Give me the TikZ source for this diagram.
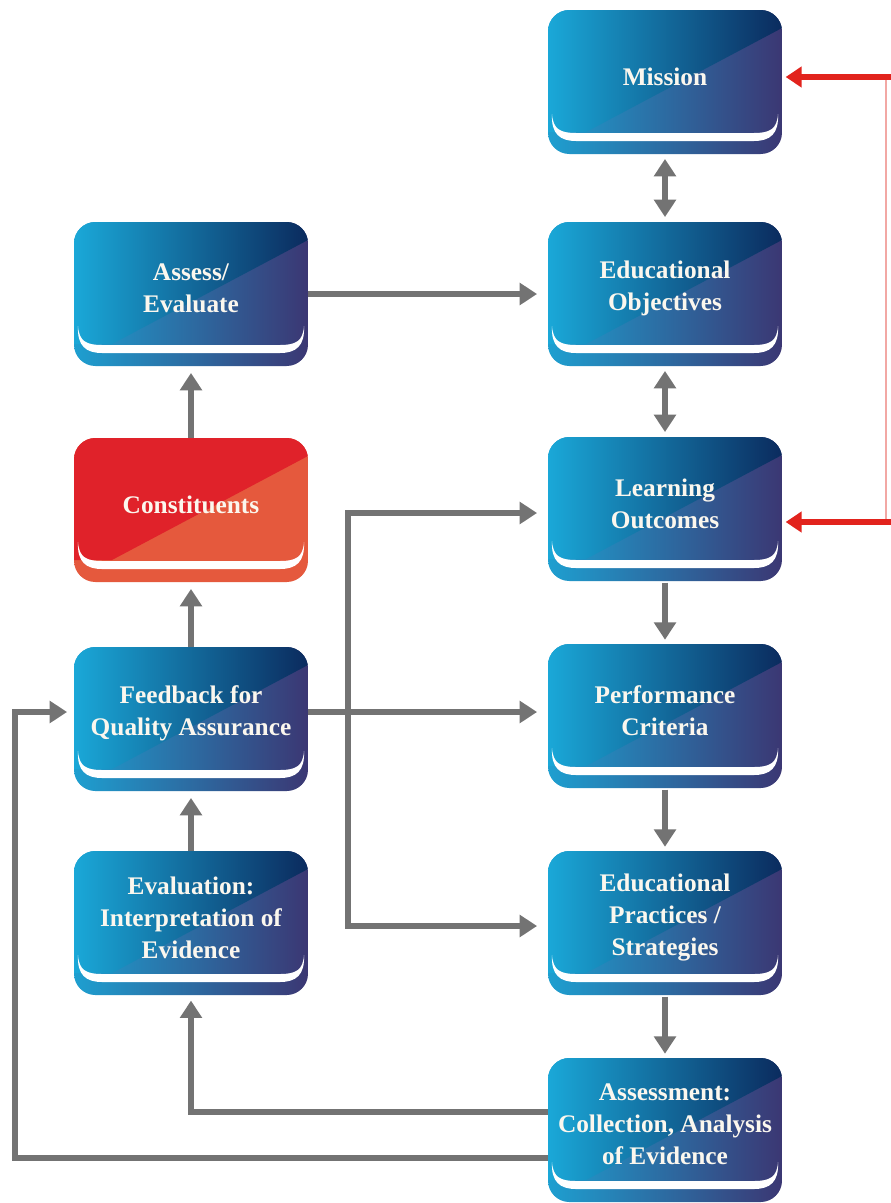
\documentclass[tikz,border=0pt]{standalone}
\usepackage{fontspec}
\newfontfamily\cardface{Liberation Serif}[BoldFont={Liberation Serif Bold}]
\usetikzlibrary{arrows.meta,calc}

\definecolor{blueUL}{HTML}{1AA8D8}
\definecolor{blueUR}{HTML}{0B2B5E}
\definecolor{blueLL}{HTML}{1E9FD0}
\definecolor{blueLR}{HTML}{3B3773}
\definecolor{redU}{HTML}{E0222A}
\definecolor{redL}{HTML}{E5593D}
\definecolor{arrowgray}{HTML}{737373}
\definecolor{linkred}{HTML}{E2231D}
\definecolor{palered}{HTML}{F2A8A4}
\definecolor{cardtext}{HTML}{FBF7EE}

\newcommand\cardfont{\cardface\fontsize{19}{24}\selectfont\bfseries}

% Paints a card: two diagonal halves with horizontal gradients and a white
% crescent near the bottom edge that separates the lower lip.
\newcommand\cardpaint[4]{%
  \begin{scope}[sharp corners]
    \coordinate (cNW) at (path picture bounding box.north west);
    \coordinate (cNE) at (path picture bounding box.north east);
    \coordinate (cSW) at (path picture bounding box.south west);
    \coordinate (cSE) at (path picture bounding box.south east);
    \shade[left color=#3, right color=#4] (cSW) rectangle (cNE);
    \shade[left color=#1, right color=#2]
      (cNW) -- (cNE) -- ($(cNE)+(0,18)$) -- ($(cSW)+(38,-22)$) -- ($(cSW)+(0,-22)$) -- cycle;
    \fill[white]
      ($(cSW)+(4,-40)$) .. controls ($(cSW)+(5,-25)$) and ($(cSW)+(12,-21)$) .. ($(cSW)+(28,-21)$)
      -- ($(cSE)+(-28,-21)$) .. controls ($(cSE)+(-12,-21)$) and ($(cSE)+(-5,-25)$) .. ($(cSE)+(-4,-40)$)
      .. controls ($(cSE)+(-3,-20)$) and ($(cSE)+(-12,-13)$) .. ($(cSE)+(-28,-13)$)
      -- ($(cSW)+(28,-13)$) .. controls ($(cSW)+(12,-13)$) and ($(cSW)+(3,-20)$) .. cycle;
  \end{scope}%
}

\tikzset{
  card/.style={rectangle, rounded corners=16pt, minimum width=175.5pt,
    minimum height=108pt, inner sep=0pt},
  bluecard/.style={card, path picture={\cardpaint{blueUL}{blueUR}{blueLL}{blueLR}}},
  redcard/.style={card, path picture={\cardpaint{redU}{redU}{redL}{redL}}},
  cardlabel/.style={align=center, text=cardtext, font=\cardfont, inner sep=0pt},
  >={Triangle[length=13pt,width=16pt]},
  flow/.style={draw=arrowgray, line width=4.5pt, line join=miter},
  feed/.style={draw=linkred, line width=4pt, -{Triangle[length=12pt,width=15pt]},
    shorten >=2.5pt},
}

\begin{document}
\begin{tikzpicture}[x=0.75pt,y=-0.75pt]
  \fill[white] (0,0) rectangle (891,1203);
  \useasboundingbox (0,0) rectangle (891,1203);

  % right column
  \node[bluecard] (mission)    at (665,82)   {};
  \node[bluecard] (edobj)      at (665,294)  {};
  \node[bluecard] (learning)   at (665,509)  {};
  \node[bluecard] (perf)       at (665,716)  {};
  \node[bluecard] (edprac)     at (665,923)  {};
  \node[bluecard] (assessment) at (665,1130) {};
  % left column
  \node[bluecard] (assess)     at (191,294)  {};
  \node[redcard]  (constit)    at (191,510)  {};
  \node[bluecard] (feedback)   at (191,719)  {};
  \node[bluecard] (evaluation) at (191,923)  {};

  % card texts
  \node[cardlabel] (mission-t)    at ([yshift=4pt]mission.center)    {Mission};
  \node[cardlabel] (edobj-t)      at ([yshift=4pt]edobj.center)      {Educational\\Objectives};
  \node[cardlabel] (learning-t)   at ([yshift=4pt]learning.center)   {Learning\\Outcomes};
  \node[cardlabel] (perf-t)       at ([yshift=4pt]perf.center)       {Performance\\Criteria};
  \node[cardlabel] (edprac-t)     at ([yshift=4pt]edprac.center)     {Educational\\Practices /\\Strategies};
  \node[cardlabel] (assessment-t) at ([yshift=4pt]assessment.center) {Assessment:\\Collection, Analysis\\of Evidence};
  \node[cardlabel] (assess-t)     at ([yshift=4pt]assess.center)     {Assess/\\Evaluate};
  \node[cardlabel] (constit-t)    at ([yshift=4pt]constit.center)    {Constituents};
  \node[cardlabel] (feedback-t)   at ([yshift=4pt]feedback.center)   {Feedback for\\Quality Assurance};
  \node[cardlabel] (evaluation-t) at ([yshift=4pt]evaluation.center) {Evaluation:\\Interpretation of\\Evidence};

  % helper rows and columns for the routed connectors
  \coordinate (fbrow)  at (0,712);
  \coordinate (lrow)   at (0,513);
  \coordinate (erow)   at (0,926);
  \coordinate (brk)    at (348,0);
  \coordinate (arow1)  at (0,1112);
  \coordinate (arow2)  at (0,1158);
  \coordinate (loopx)  at (15,0);
  \coordinate (redtop) at (891,77);
  \coordinate (redbot) at (891,522);
  \coordinate (redx)   at (886,0);

  % right column chain
  \draw[flow,<->,shorten <=3.5pt,shorten >=3.5pt] (mission) -- (edobj);
  \draw[flow,<->,shorten <=3.5pt,shorten >=3.5pt] (edobj) -- (learning);
  \draw[flow,->,shorten <=1pt,shorten >=3pt] (learning) -- (perf);
  \draw[flow,->,shorten <=1pt,shorten >=3pt] (perf) -- (edprac);
  \draw[flow,->,shorten <=1pt,shorten >=3pt] (edprac) -- (assessment);

  % left column chain
  \draw[flow,->,shorten >=5pt] (constit) -- (assess);
  \draw[flow,->,shorten >=5pt] (feedback) -- (constit);
  \draw[flow,->,shorten >=5pt] (evaluation) -- (feedback);

  % cross links
  \draw[flow,->,shorten >=8pt] (assess) -- (edobj);
  \draw[flow,->,shorten >=8pt] (feedback.east |- fbrow) -- (perf.west |- fbrow);
  \draw[flow,<->,shorten <=8pt,shorten >=8pt]
    (learning.west |- lrow) -- (brk |- lrow) -- (brk |- erow) -- (edprac.west |- erow);
  \draw[flow,->,shorten >=4pt] (assessment.west |- arow1) -| (evaluation.south);
  \draw[flow,->,shorten >=5pt]
    (assessment.west |- arow2) -| (loopx |- fbrow) -- (feedback.west |- fbrow);

  % red return links on the right edge
  \draw[palered, line width=0.8pt] (redx |- redtop) -- (redx |- redbot);
  \draw[feed] (redtop) -- (mission.east |- redtop);
  \draw[feed] (redbot) -- (learning.east |- redbot);
\end{tikzpicture}
\end{document}
